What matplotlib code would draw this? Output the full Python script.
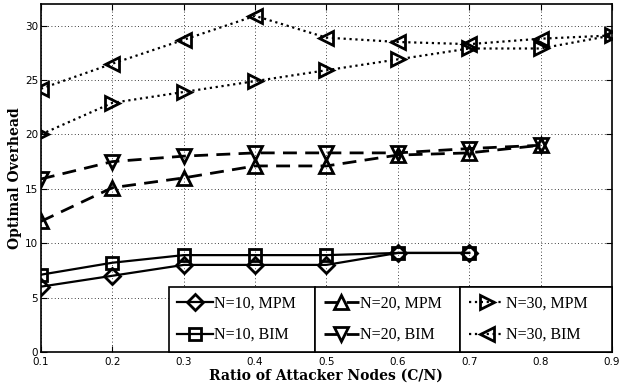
import matplotlib
matplotlib.use("Agg")
import matplotlib.pyplot as plt

ratio = [0.1, 0.2, 0.3, 0.4, 0.5, 0.6, 0.7, 0.8, 0.9]

n10_mpm = [6, 7, 8, 8, 8, 9.1, 9.1]
n10_bim = [7.1, 8.2, 8.9, 8.9, 8.9, 9.1, 9.1]
n20_mpm = [12, 15.1, 16, 17.1, 17.1, 18.1, 18.3, 19]
n20_bim = [15.9, 17.5, 18, 18.3, 18.3, 18.3, 18.7, 19]
n30_mpm = [20, 22.9, 23.9, 24.9, 25.9, 26.9, 27.9, 27.9, 29.1]
n30_bim = [24.2, 26.5, 28.7, 30.9, 28.9, 28.5, 28.3, 28.8, 29.1]

fig = plt.figure(figsize=(6.2, 3.91), dpi=100)
ax = fig.add_axes([0.066, 0.1, 0.921, 0.89])

mk = dict(color='black', markerfacecolor='none', markeredgecolor='black',
          markersize=10, markeredgewidth=2)
h1, = ax.plot(ratio[:7], n10_mpm, '-', marker='D', lw=1.6, label='N=10, MPM', **{**mk, 'markersize': 8})
h2, = ax.plot(ratio[:7], n10_bim, '-', marker='s', lw=1.6, label='N=10, BIM', **{**mk, 'markersize': 8})
h3, = ax.plot(ratio[:8], n20_mpm, '--', marker='^', lw=2, dashes=(5, 3), label='N=20, MPM', **mk)
h4, = ax.plot(ratio[:8], n20_bim, '--', marker='v', lw=2, dashes=(5, 3), label='N=20, BIM', **mk)
h5, = ax.plot(ratio, n30_mpm, ':', marker='>', lw=1.6, label='N=30, MPM', **mk)
h6, = ax.plot(ratio, n30_bim, ':', marker='<', lw=1.6, label='N=30, BIM', **mk)

ax.set_xlim(0.1, 0.9)
ax.set_ylim(0, 32)
ax.set_xticks(ratio)
ax.set_xticklabels([f'{r:.1f}' for r in ratio])
ax.set_yticks([0, 5, 10, 15, 20, 25, 30])
ax.tick_params(direction='in', top=True, right=True, labelsize=7.5, length=4, pad=2)
ax.tick_params(axis='x', pad=4)
ax.grid(True, linestyle=(0, (1, 3)), color='black', lw=0.6)
for s in ax.spines.values():
    s.set_linewidth(1.2)

ax.set_xlabel('Ratio of Attacker Nodes (C/N)', family='DejaVu Serif', fontweight='bold', fontsize=10, labelpad=1)
ax.set_ylabel('Optimal Overhead', family='DejaVu Serif', fontweight='bold', fontsize=10, labelpad=2)

groups = [[h1, h2], [h3, h4], [h5, h6]]
lefts = [0.2238, 0.4795, 0.7343]
for grp, x0 in zip(groups, lefts):
    leg = ax.legend(handles=grp, loc='lower left', bbox_to_anchor=(x0, 0.0, 0.2557 if x0 < 0.7 else 0.2657, 0.2),
                    mode='expand', fancybox=False, framealpha=1, edgecolor='black',
                    prop={'family': 'Liberation Serif', 'size': 11.5}, handlelength=2.2,
                    handletextpad=0.1, borderaxespad=0, labelspacing=0.95, borderpad=0.55)
    leg.get_frame().set_linewidth(1.2)
    ax.add_artist(leg)

fig.savefig('out.png', dpi=100)
